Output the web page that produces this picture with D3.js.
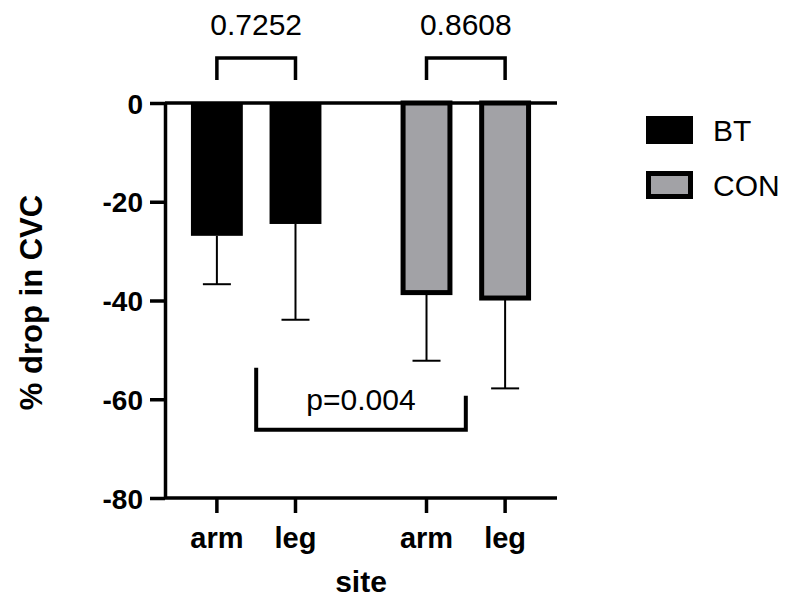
<!DOCTYPE html>
<html lang="en">
<head>
    <meta charset="UTF-8">
    <title>% drop in CVC</title>
    <script src="https://d3js.org/d3.v7.min.js"></script>
    <style>
        body { margin: 0; background: #fff; }
        text { font-family: Arial, "Liberation Sans", Helvetica, sans-serif; fill: #000; }
    </style>
</head>
<body>
    <div id="chart"></div>
    <script>
        // data
        const groups = ["BT", "CON"];
        const sites = ["arm", "leg"];
        const means = { BT: [-26.9, -24.5], CON: [-38.4, -39.5] };
        const sds = { BT: [9.8, 19.4], CON: [13.8, 18.3] };
        const yTicks = [0, -20, -40, -60, -80];
        const pairLabels = ["0.7252", "0.8608"];   // arm vs leg within each group
        const groupLabel = "p=0.004";              // BT vs CON

        const width = 789, height = 608;
        const plotL = 165, plotR = 557, plotT = 103, plotB = 498;

        const svg = d3.select("#chart").append("svg")
            .attr("width", width)
            .attr("height", height);

        const y = d3.scaleLinear().domain([-80, 0]).range([plotB, plotT]);

        // outer band for groups, inner band for site
        const x0 = d3.scaleBand().domain(groups).range([plotL, plotR])
            .paddingInner(0.25).paddingOuter(0.06);
        const x1 = d3.scaleBand().domain(sites).range([0, x0.bandwidth()])
            .paddingInner(0.34).paddingOuter(0.17);

        const rows = [];
        groups.forEach(g => sites.forEach((s, i) => rows.push({ group: g, site: s, mean: means[g][i], sd: sds[g][i] })));
        const cx = d => x0(d.group) + x1(d.site) + x1.bandwidth() / 2;

        const fill = { BT: "#000", CON: "#a2a2a6" };
        const sw = 5;

        // bars
        svg.selectAll("rect.bar")
            .data(rows)
            .join("rect")
            .attr("class", "bar")
            .attr("x", d => x0(d.group) + x1(d.site) + (d.group === "CON" ? sw / 2 : 0))
            .attr("width", d => x1.bandwidth() - (d.group === "CON" ? sw : 0))
            .attr("y", y(0))
            .attr("height", d => y(d.mean) - y(0))
            .attr("fill", d => fill[d.group])
            .attr("stroke", d => d.group === "CON" ? "#000" : "none")
            .attr("stroke-width", sw);

        // error bars (lower only)
        const err = svg.selectAll("g.err").data(rows).join("g").attr("class", "err")
            .attr("stroke", "#000").attr("stroke-width", 2);
        err.append("line")
            .attr("x1", cx).attr("x2", cx)
            .attr("y1", d => y(d.mean))
            .attr("y2", d => y(d.mean - d.sd));
        err.append("line")
            .attr("x1", d => cx(d) - 14).attr("x2", d => cx(d) + 14)
            .attr("y1", d => y(d.mean - d.sd))
            .attr("y2", d => y(d.mean - d.sd));

        // y axis
        const yAxis = svg.append("g")
            .attr("transform", `translate(${plotL},0)`)
            .call(d3.axisLeft(y).tickValues(yTicks).tickFormat(d => String(d))
                .tickSize(15).tickPadding(7).tickSizeOuter(0));
        yAxis.select(".domain").attr("stroke-width", 3.5);
        yAxis.selectAll(".tick line").attr("stroke-width", 3.5);
        yAxis.selectAll(".tick text")
            .style("font-size", "28px").style("font-weight", "bold")
            .attr("dy", "0.36em");

        // x axis at the bottom
        const xAxis = svg.append("g")
            .attr("transform", `translate(0,${plotB})`);
        xAxis.append("line")
            .attr("x1", plotL).attr("x2", plotR)
            .attr("stroke", "#000").attr("stroke-width", 3.5);
        xAxis.selectAll("line.tick")
            .data(rows)
            .join("line")
            .attr("class", "tick")
            .attr("x1", cx).attr("x2", cx)
            .attr("y1", 0).attr("y2", 15)
            .attr("stroke", "#000").attr("stroke-width", 3.5);
        xAxis.selectAll("text")
            .data(rows)
            .join("text")
            .attr("x", cx)
            .attr("y", 50)
            .attr("text-anchor", "middle")
            .style("font-size", "29px").style("font-weight", "bold")
            .text(d => d.site);

        // zero line across the plot
        svg.append("line")
            .attr("x1", plotL).attr("x2", plotR)
            .attr("y1", y(0)).attr("y2", y(0))
            .attr("stroke", "#000").attr("stroke-width", 3.5);

        // axis titles
        svg.append("text")
            .attr("x", (plotL + plotR) / 2)
            .attr("y", 592)
            .attr("text-anchor", "middle")
            .style("font-size", "30px").style("font-weight", "bold")
            .text("site");
        svg.append("text")
            .attr("transform", `translate(42,${(plotT + plotB) / 2 + 2}) rotate(-90)`)
            .attr("text-anchor", "middle")
            .style("font-size", "31px").style("font-weight", "bold")
            .text("% drop in CVC");

        // within-group brackets
        groups.forEach((g, i) => {
            const a = rows.find(r => r.group === g && r.site === "arm");
            const b = rows.find(r => r.group === g && r.site === "leg");
            const xa = cx(a), xb = cx(b);
            svg.append("path")
                .attr("d", `M${xa},80 V58 H${xb} V80`)
                .attr("fill", "none").attr("stroke", "#000").attr("stroke-width", 3.5);
            svg.append("text")
                .attr("x", (xa + xb) / 2).attr("y", 35)
                .attr("text-anchor", "middle")
                .style("font-size", "30px")
                .text(pairLabels[i]);
        });

        // between-group bracket
        const gx = g => x0(g) + x0.bandwidth() / 2;
        svg.append("path")
            .attr("d", `M${gx("BT")},${y(-53.6)} V${y(-66.2)} H${gx("CON")} V${y(-59.3)}`)
            .attr("fill", "none").attr("stroke", "#000").attr("stroke-width", 4);
        svg.append("text")
            .attr("x", (gx("BT") + gx("CON")) / 2).attr("y", y(-62.2))
            .attr("text-anchor", "middle")
            .style("font-size", "30px")
            .text(groupLabel);

        // legend
        const legend = svg.selectAll("g.legend")
            .data(groups)
            .join("g")
            .attr("class", "legend")
            .attr("transform", (d, i) => `translate(646,${116 + i * 55})`);
        legend.append("rect")
            .attr("x", d => d === "CON" ? sw / 2 : 0)
            .attr("y", d => d === "CON" ? sw / 2 : 0)
            .attr("width", d => d === "CON" ? 47 - sw : 47)
            .attr("height", d => d === "CON" ? 28 - sw : 28)
            .attr("fill", d => fill[d])
            .attr("stroke", d => d === "CON" ? "#000" : "none")
            .attr("stroke-width", sw);
        legend.append("text")
            .attr("x", 67).attr("y", 14)
            .attr("dy", "0.36em")
            .style("font-size", "30px")
            .text(d => d);
    </script>
</body>
</html>
